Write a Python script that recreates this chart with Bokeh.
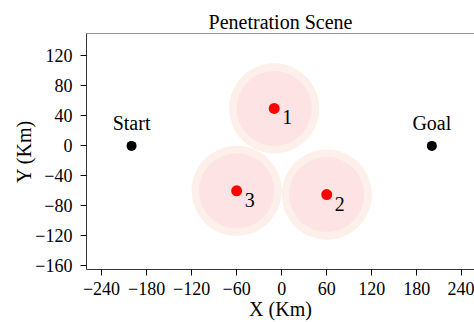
from bokeh.plotting import figure
from bokeh.models import Range1d, FixedTicker, Span, ColumnDataSource, CustomJSTickFormatter
from bokeh.core.properties import value
from bokeh.embed import file_html
from bokeh.resources import INLINE

# Data
threat_x = [-10, 60, -60]
threat_y = [50, -65, -60]
threat_labels = ["1", "2", "3"]
outer_radius = [60, 60, 60]
inner_radius = [50, 50, 50]
site_x = [-200, 200]
site_y = [0, 0]
site_labels = ["Start", "Goal"]
x_ticks = [-240, -180, -120, -60, 0, 60, 120, 180, 240]
y_ticks = [-160, -120, -80, -40, 0, 40, 80, 120]
x_tick_labels = [str(v).replace("-", "\u2212") for v in x_ticks]
y_tick_labels = [str(v).replace("-", "\u2212") for v in y_ticks]

FONT = "Liberation Serif"

p = figure(width=474, height=322, output_backend="svg", toolbar_location=None,
           x_range=Range1d(-260, 256.8), y_range=Range1d(-165, 150),
           min_border_left=86, min_border_right=0, min_border_top=33,
           min_border_bottom=53)
p.title.text = "Penetration Scene"
p.title.align = "center"
p.title.text_font = FONT
p.title.text_font_size = "20px"
p.title.text_font_style = "normal"
p.title.text_color = "black"
p.title.standoff = 2
p.title.offset = 0

p.outline_line_color = None
p.xgrid.visible = False
p.ygrid.visible = False
p.background_fill_color = "white"
p.border_fill_color = "white"

for ax, ticks, labels in ((p.xaxis[0], x_ticks, x_tick_labels), (p.yaxis[0], y_ticks, y_tick_labels)):
    ax.ticker = FixedTicker(ticks=ticks)
    ax.formatter = CustomJSTickFormatter(
        args=dict(tv=ticks, tl=labels),
        code="const i = tv.indexOf(tick); return i >= 0 ? tl[i] : String(tick).replace('-', '\u2212');")
    ax.minor_tick_line_color = None
    ax.major_tick_in = 0
    ax.major_tick_out = 6
    ax.major_tick_line_color = "black"
    ax.axis_line_color = "#333333"
    ax.major_label_text_font = FONT
    ax.major_label_text_font_size = "18px"
    ax.major_label_text_color = "black"
    ax.axis_label_text_font = FONT
    ax.axis_label_text_font_size = "20px"
    ax.axis_label_text_font_style = "normal"
    ax.axis_label_text_color = "black"

p.xaxis.axis_label = "X (Km)"
p.yaxis.axis_label = "Y (Km)"
p.xaxis.major_label_standoff = 6
p.xaxis.axis_label_standoff = 0
p.yaxis.major_label_standoff = 8
p.yaxis.axis_label_standoff = -3

p.add_layout(Span(location=150, dimension="width", line_color="#333333", line_width=1))

src = ColumnDataSource(dict(x=threat_x, y=threat_y, ro=outer_radius, ri=inner_radius, t=threat_labels))
p.circle(x="x", y="y", radius="ro", source=src, fill_color="#fdefea", line_color=None)
p.circle(x="x", y="y", radius="ri", source=src, fill_color="#fde3e3", line_color=None)
p.scatter(x="x", y="y", source=src, size=11, fill_color="#ff0000", line_color=None)
p.text(x="x", y="y", text="t", source=src, x_offset=8, y_offset=9,
       text_align="left", text_baseline="middle", text_font=value(FONT),
       text_font_size="20px", text_color="black")

ssrc = ColumnDataSource(dict(x=site_x, y=site_y, t=site_labels))
p.scatter(x="x", y="y", source=ssrc, size=10, fill_color="black", line_color=None)
p.text(x="x", y="y", text="t", source=ssrc, y_offset=-12,
       text_align="center", text_baseline="bottom", text_font=value(FONT),
       text_font_size="20px", text_color="black")

open("out.html", "w").write(file_html(p, INLINE))
